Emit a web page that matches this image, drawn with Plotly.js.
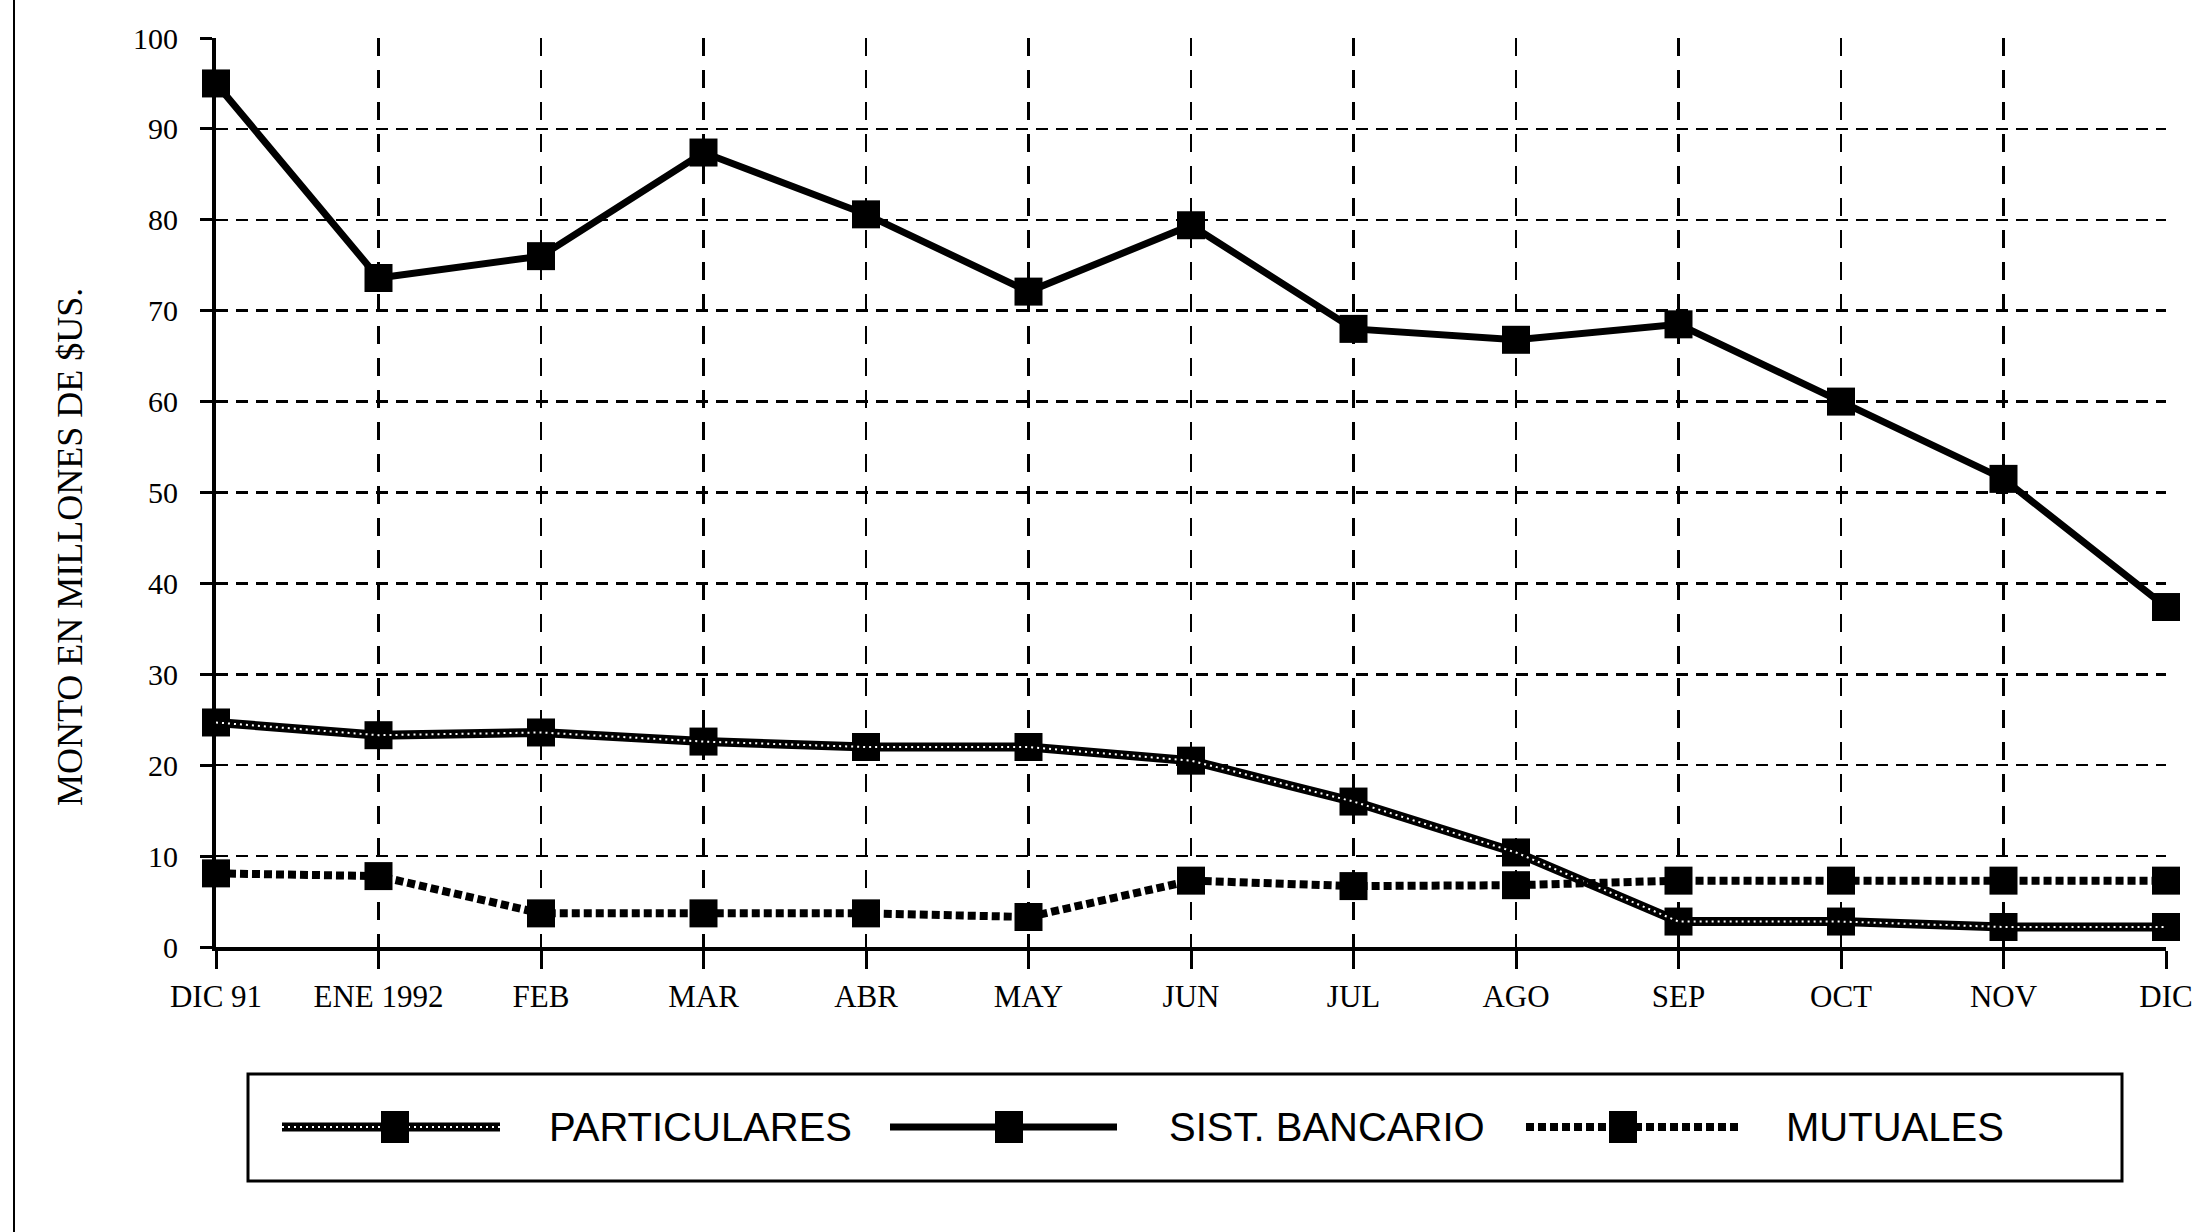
<!DOCTYPE html>
<html>
<head>
<meta charset="utf-8">
<script src="https://cdn.plot.ly/plotly-3.0.1.min.js"></script>
<style>
html,body{margin:0;padding:0;background:#fff;}
#chart{width:2209px;height:1232px;}
</style>
</head>
<body>
<div id="chart"></div>
<script>
var months = ["DIC 91","ENE 1992","FEB","MAR","ABR","MAY","JUN","JUL","AGO","SEP","OCT","NOV","DIC"];
var particulares = [24.7,23.3,23.6,22.6,22.0,22.0,20.5,16.0,10.4,2.8,2.8,2.2,2.2];
var sistBancario = [95.0,73.6,76.0,87.4,80.6,72.1,79.4,68.0,66.8,68.5,60.0,51.5,37.4];
var mutuales = [8.1,7.8,3.7,3.7,3.7,3.3,7.3,6.7,6.8,7.3,7.3,7.3,7.3];
var legendNames = ["PARTICULARES","SIST. BANCARIO","MUTUALES"];
var yTitle = "MONTO EN MILLONES DE $US.";

var serif = "Liberation Serif, Times New Roman, serif";
var sans = "Liberation Sans, Arial, sans-serif";

var W = 2209, H = 1232;
var L = 216, R = 43, T = 38, B = 285;
var pw = W - L - R, ph = H - T - B;
function px(x){ return (x - L) / pw; }
function py(y){ return (H - B - y) / ph; }

var traces = [
  {x: months, y: sistBancario, type: "scatter", mode: "lines+markers", name: legendNames[1],
   line: {color: "#000", width: 7}, marker: {symbol: "square", size: 28, color: "#000"}, cliponaxis: false},
  {x: months, y: particulares, type: "scatter", mode: "lines+markers", name: legendNames[0],
   line: {color: "#000", width: 9}, marker: {symbol: "square", size: 28, color: "#000"}, cliponaxis: false},
  {x: months, y: particulares, type: "scatter", mode: "lines", name: legendNames[0] + " (trama)", showlegend: false,
   line: {color: "#fff", width: 2, dash: "2px,4px"}, cliponaxis: false, hoverinfo: "skip"},
  {x: months, y: mutuales, type: "scatter", mode: "lines+markers", name: legendNames[2],
   line: {color: "#000", width: 8, dash: "8px,4px"}, marker: {symbol: "square", size: 28, color: "#000"}, cliponaxis: false}
];

// custom legend (decoration)
var legC = 1127;
var legY = py(legC);
var shapes = [
  {type: "line", xref: "paper", yref: "paper", x0: px(14), x1: px(14), y0: py(0), y1: py(1232), line: {color: "#000", width: 2}},
  {type: "rect", xref: "paper", yref: "paper", x0: px(248), x1: px(2122), y0: py(1074), y1: py(1181), line: {color: "#000", width: 3}},
  {type: "line", xref: "paper", yref: "paper", x0: px(282), x1: px(500), y0: legY, y1: legY, line: {color: "#000", width: 9}},
  {type: "line", xref: "paper", yref: "paper", x0: px(282), x1: px(500), y0: legY, y1: legY, line: {color: "#fff", width: 2, dash: "2px,4px"}},
  {type: "line", xref: "paper", yref: "paper", x0: px(890), x1: px(1117), y0: legY, y1: legY, line: {color: "#000", width: 7}},
  {type: "line", xref: "paper", yref: "paper", x0: px(1526), x1: px(1740), y0: legY, y1: legY, line: {color: "#000", width: 8, dash: "8px,4px"}}
];
[395, 1009, 1623].forEach(function(cx){
  shapes.push({type: "rect", xref: "paper", yref: "paper", x0: px(cx - 14), x1: px(cx + 14), y0: py(legC + 16), y1: py(legC - 16),
    fillcolor: "#000", line: {color: "#000", width: 0}});
});

var annotations = [
  {text: yTitle, xref: "paper", yref: "paper", x: px(70), y: py(547), showarrow: false, textangle: -90,
   font: {family: serif, size: 36, color: "#000"}, xanchor: "center", yanchor: "middle"},
  {text: legendNames[0], xref: "paper", yref: "paper", x: px(547), y: legY, showarrow: false, xanchor: "left", yanchor: "middle",
   font: {family: sans, size: 40, color: "#000"}},
  {text: legendNames[1], xref: "paper", yref: "paper", x: px(1167), y: legY, showarrow: false, xanchor: "left", yanchor: "middle",
   font: {family: sans, size: 40, color: "#000"}},
  {text: legendNames[2], xref: "paper", yref: "paper", x: px(1784), y: legY, showarrow: false, xanchor: "left", yanchor: "middle",
   font: {family: sans, size: 40, color: "#000"}}
];

var layout = {
  width: W, height: H,
  margin: {l: L, r: R, t: T, b: B, pad: 0},
  paper_bgcolor: "#fff", plot_bgcolor: "#fff",
  showlegend: false,
  xaxis: {
    type: "category", range: [0, 12], showline: true, linecolor: "#000", linewidth: 4,
    showgrid: true, gridcolor: "#000", gridwidth: 2.5, griddash: "18px,14px",
    ticks: "outside", ticklen: 18, tickwidth: 3, tickcolor: "#000",
    ticklabelstandoff: 1,
    tickfont: {family: serif, size: 31, color: "#000"}, zeroline: false, fixedrange: true
  },
  yaxis: {
    range: [0, 100], dtick: 10, showline: true, linecolor: "#000", linewidth: 4,
    showgrid: true, gridcolor: "#000", gridwidth: 2.5, griddash: "12px,8px",
    ticks: "outside", ticklen: 12, tickwidth: 3, tickcolor: "#000",
    ticklabelstandoff: 16,
    tickfont: {family: serif, size: 30, color: "#000"}, zeroline: false, fixedrange: true
  },
  shapes: shapes,
  annotations: annotations
};

Plotly.newPlot("chart", traces, layout, {displayModeBar: false, staticPlot: true});
</script>
</body>
</html>
